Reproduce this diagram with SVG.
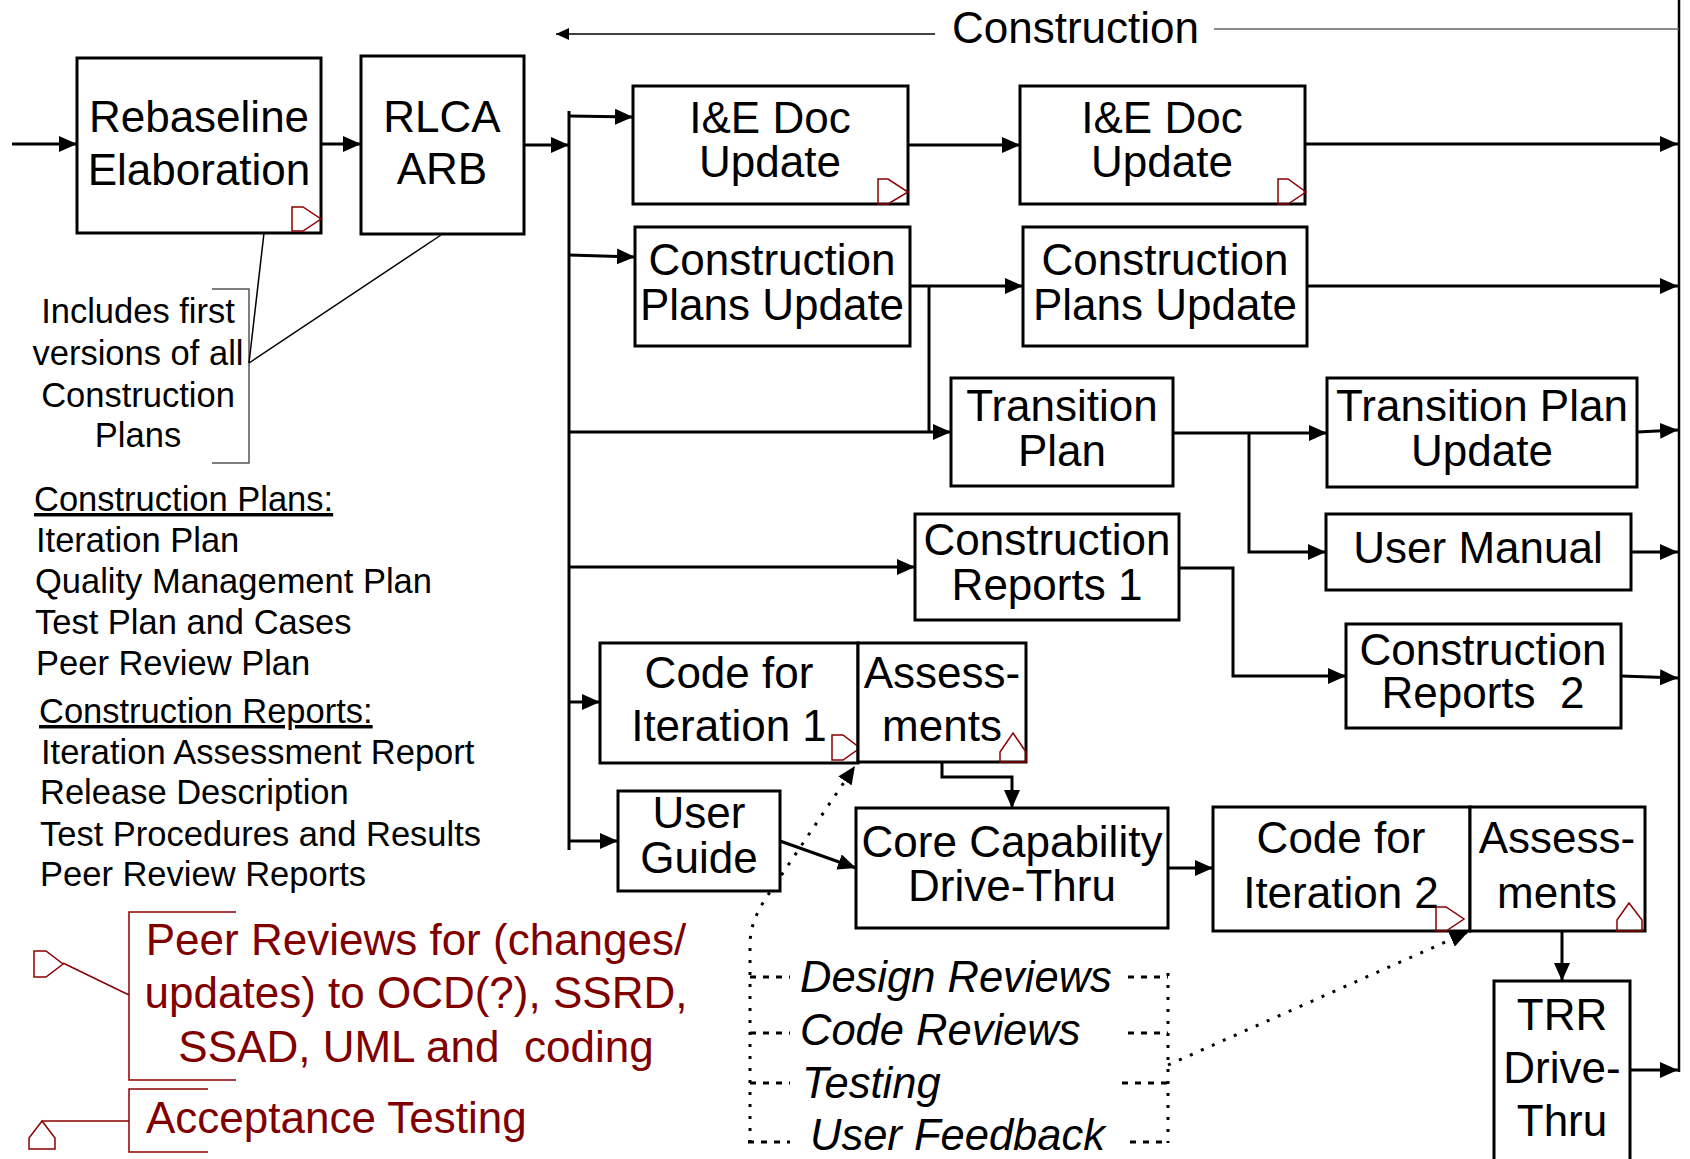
<svg xmlns="http://www.w3.org/2000/svg" width="1690" height="1159" viewBox="0 0 1690 1159">
<defs>
<style>
.box{fill:#fff;stroke:#000;stroke-width:3}
.lbl{font-family:"Liberation Sans",Arial,sans-serif;font-size:44px;text-anchor:middle;fill:#000}
.note{font-family:"Liberation Sans",Arial,sans-serif;font-size:34.5px;fill:#000}
.red{font-family:"Liberation Sans",Arial,sans-serif;font-size:44px;fill:#800000;text-anchor:middle}
.ital{font-family:"Liberation Sans",Arial,sans-serif;font-size:43.5px;font-style:italic;fill:#000}
.con{fill:none;stroke:#000;stroke-width:3}
.thin{fill:none;stroke:#000;stroke-width:1.5}
.dot{fill:none;stroke:#000;stroke-width:3;stroke-dasharray:3 9}
.dash{fill:none;stroke:#000;stroke-width:3;stroke-dasharray:6 7}
.rm{fill:none;stroke:#8b0000;stroke-width:1.5}
.rl{fill:none;stroke:#8b0000;stroke-width:1.5}
</style>
<marker id="ah" markerWidth="18" markerHeight="16" refX="18" refY="8" orient="auto" markerUnits="userSpaceOnUse"><path d="M0,0 L18,8 L0,16 z" fill="#000"/></marker>
<marker id="ahs" markerWidth="13" markerHeight="12" refX="13" refY="6" orient="auto" markerUnits="userSpaceOnUse"><path d="M0,0 L13,6 L0,12 z" fill="#000"/></marker>
</defs>
<rect width="1690" height="1159" fill="#fff"/>

<g id="connectors">
<path class="con" d="M12,144 H77" marker-end="url(#ah)"/>
<path class="con" d="M321,144 H361" marker-end="url(#ah)"/>
<path class="con" d="M524,145 H569" marker-end="url(#ah)"/>
<path class="con" d="M569,111 V850"/>
<path class="con" d="M569,116 L633,117" marker-end="url(#ah)"/>
<path class="con" d="M569,255 L635,257" marker-end="url(#ah)"/>
<path class="con" d="M569,432 H951" marker-end="url(#ah)"/>
<path class="con" d="M569,567 H915" marker-end="url(#ah)"/>
<path class="con" d="M569,702 H600" marker-end="url(#ah)"/>
<path class="con" d="M569,841 H618" marker-end="url(#ah)"/>
<path class="con" d="M908,145 H1020" marker-end="url(#ah)"/>
<path class="con" d="M1305,144 H1678" marker-end="url(#ah)"/>
<path class="con" d="M910,286 H1023" marker-end="url(#ah)"/>
<path class="con" d="M929,286 V432"/>
<path class="con" d="M1307,286 H1678" marker-end="url(#ah)"/>
<path class="con" d="M1173,433 H1327" marker-end="url(#ah)"/>
<path class="con" d="M1249,433 V552 H1326" marker-end="url(#ah)"/>
<path class="con" d="M1637,432 L1678,430" marker-end="url(#ah)"/>
<path class="con" d="M1631,552 H1678" marker-end="url(#ah)"/>
<path class="con" d="M1179,568 H1233 V676 H1346" marker-end="url(#ah)"/>
<path class="con" d="M1621,676 L1678,678" marker-end="url(#ah)"/>
<path class="con" d="M942,762 V777 H1012 V808" marker-end="url(#ah)"/>
<path class="con" d="M780,841 L856,868" marker-end="url(#ah)"/>
<path class="con" d="M1168,868 H1213" marker-end="url(#ah)"/>
<path class="con" d="M1562,931 V981" marker-end="url(#ah)"/>
<path class="con" d="M1630,1070 H1678" marker-end="url(#ah)"/>
<path fill="none" stroke="#000" stroke-width="2.5" d="M1679,0 V1072"/>
<path class="thin" d="M935,34 H556" marker-end="url(#ahs)"/>
<path fill="none" stroke="#666" stroke-width="1.5" d="M1214,29 H1679"/>
<path fill="none" stroke="#555" stroke-width="1.5" d="M212,289 H249 V463 H212"/>
<path class="thin" d="M264,233 L249,363 M441,235 L249,363"/>
<path class="dot" d="M750,1143 V945 C750,925 758,910 768,895 L855,766" marker-end="url(#ah)"/>
<path class="dot" d="M1168,973 V1143"/>
<path class="dash" d="M750,977 H790 M750,1033 H790 M750,1083 H790 M748,1142 H790"/>
<path class="dash" d="M1128,977 H1168 M1128,1033 H1168 M1122,1083 H1168 M1130,1142 H1168"/>
<path class="dot" d="M1168,1065 L1468,932" marker-end="url(#ah)"/>
<path class="rl" d="M236,912 H129 V1080 H236 M129,995 L63,963"/>
<path class="rl" d="M208,1089 H129 V1152 H208 M129,1121 H42"/>
</g>

<g id="rebaseline">
<rect class="box" x="77" y="58" width="244" height="175"/>
<text class="lbl" x="199" y="132">Rebaseline</text>
<text class="lbl" x="199" y="185">Elaboration</text>
<path class="rm" d="M292,207 H303 L321,219 L303,231 H292 Z"/>
</g>
<g id="rlca">
<rect class="box" x="361" y="56" width="163" height="178"/>
<text class="lbl" x="442" y="132">RLCA</text>
<text class="lbl" x="442" y="184">ARB</text>
</g>
<g id="ie1">
<rect class="box" x="633" y="86" width="275" height="118"/>
<text class="lbl" x="770" y="133">I&amp;E Doc</text>
<text class="lbl" x="770" y="177">Update</text>
<path class="rm" d="M878,179 H888 L908,192 L888,204 H878 Z"/>
</g>
<g id="ie2">
<rect class="box" x="1020" y="86" width="285" height="118"/>
<text class="lbl" x="1162" y="133">I&amp;E Doc</text>
<text class="lbl" x="1162" y="177">Update</text>
<path class="rm" d="M1278,179 H1288 L1306,192 L1288,204 H1278 Z"/>
</g>
<g id="cpu1">
<rect class="box" x="635" y="227" width="275" height="119"/>
<text class="lbl" x="772" y="275">Construction</text>
<text class="lbl" x="772" y="320">Plans Update</text>
</g>
<g id="cpu2">
<rect class="box" x="1023" y="227" width="284" height="119"/>
<text class="lbl" x="1165" y="275">Construction</text>
<text class="lbl" x="1165" y="320">Plans Update</text>
</g>
<g id="tp">
<rect class="box" x="951" y="378" width="222" height="108"/>
<text class="lbl" x="1062" y="421">Transition</text>
<text class="lbl" x="1062" y="466">Plan</text>
</g>
<g id="tpu">
<rect class="box" x="1327" y="378" width="310" height="109"/>
<text class="lbl" x="1482" y="421">Transition Plan</text>
<text class="lbl" x="1482" y="466">Update</text>
</g>
<g id="um">
<rect class="box" x="1326" y="514" width="305" height="76"/>
<text class="lbl" x="1478" y="563">User Manual</text>
</g>
<g id="cr1">
<rect class="box" x="915" y="514" width="264" height="106"/>
<text class="lbl" x="1047" y="555">Construction</text>
<text class="lbl" x="1047" y="600">Reports 1</text>
</g>
<g id="cr2">
<rect class="box" x="1346" y="624" width="275" height="104"/>
<text class="lbl" x="1483" y="665">Construction</text>
<text class="lbl" x="1483" y="708">Reports&#160; 2</text>
</g>
<g id="code1">
<rect class="box" x="600" y="643" width="258" height="120"/>
<text class="lbl" x="729" y="688">Code for</text>
<text class="lbl" x="729" y="741">Iteration 1</text>
<path class="rm" d="M832,735 H843 L860,748 L843,760 H832 Z"/>
</g>
<g id="assess1">
<rect class="box" x="858" y="643" width="168" height="119"/>
<text class="lbl" x="942" y="688">Assess-</text>
<text class="lbl" x="942" y="741">ments</text>
<path class="rm" d="M1013,733 L1026,752 V762 H1000 V752 Z"/>
</g>
<g id="userguide">
<rect class="box" x="618" y="791" width="162" height="100"/>
<text class="lbl" x="699" y="828">User</text>
<text class="lbl" x="699" y="873">Guide</text>
</g>
<g id="core">
<rect class="box" x="856" y="808" width="312" height="120"/>
<text class="lbl" x="1012" y="857">Core Capability</text>
<text class="lbl" x="1012" y="901">Drive-Thru</text>
</g>
<g id="code2">
<rect class="box" x="1213" y="807" width="257" height="124"/>
<text class="lbl" x="1341" y="853">Code for</text>
<text class="lbl" x="1341" y="908">Iteration 2</text>
<path class="rm" d="M1436,907 H1446 L1464,919 L1446,931 H1436 Z"/>
</g>
<g id="assess2">
<rect class="box" x="1470" y="807" width="175" height="124"/>
<text class="lbl" x="1557" y="853">Assess-</text>
<text class="lbl" x="1557" y="908">ments</text>
<path class="rm" d="M1629,903 L1642,920 V931 H1617 V920 Z"/>
</g>
<g id="trr">
<rect class="box" x="1494" y="981" width="136" height="190"/>
<text class="lbl" x="1562" y="1030">TRR</text>
<text class="lbl" x="1562" y="1083">Drive-</text>
<text class="lbl" x="1562" y="1136">Thru</text>
</g>

<g id="phase-title">
<text class="lbl" x="952" y="43" style="text-anchor:start">Construction</text>
</g>
<g id="note-includes">
<text class="note" x="138" y="323" text-anchor="middle">Includes first</text>
<text class="note" x="138" y="365" text-anchor="middle">versions of all</text>
<text class="note" x="138" y="407" text-anchor="middle">Construction</text>
<text class="note" x="138" y="447" text-anchor="middle">Plans</text>
</g>
<g id="legend">
<text class="note" x="34" y="511" text-decoration="underline">Construction Plans:</text>
<text class="note" x="36" y="552">Iteration Plan</text>
<text class="note" x="35" y="593">Quality Management Plan</text>
<text class="note" x="35" y="634">Test Plan and Cases</text>
<text class="note" x="36" y="675">Peer Review Plan</text>
<text class="note" x="39" y="723" text-decoration="underline">Construction Reports:</text>
<text class="note" x="41" y="764">Iteration Assessment Report</text>
<text class="note" x="40" y="804">Release Description</text>
<text class="note" x="40" y="846">Test Procedures and Results</text>
<text class="note" x="40" y="886">Peer Review Reports</text>
</g>
<g id="peer-reviews-note">
<text class="red" x="416" y="955">Peer Reviews for (changes/</text>
<text class="red" x="416" y="1008">updates) to OCD(?), SSRD,</text>
<text class="red" x="416" y="1062">SSAD, UML and&#160; coding</text>
<path class="rm" d="M34,951 H46 L63,964 L46,977 H34 Z"/>
</g>
<g id="acceptance-note">
<text class="red" x="146" y="1133" style="text-anchor:start">Acceptance Testing</text>
<path class="rm" d="M42,1121 L55,1138 V1149 H29 V1138 Z"/>
</g>
<g id="review-list">
<text class="ital" x="800" y="992">Design Reviews</text>
<text class="ital" x="800" y="1045">Code Reviews</text>
<text class="ital" x="802" y="1098">Testing</text>
<text class="ital" x="810" y="1150">User Feedback</text>
</g>
</svg>
